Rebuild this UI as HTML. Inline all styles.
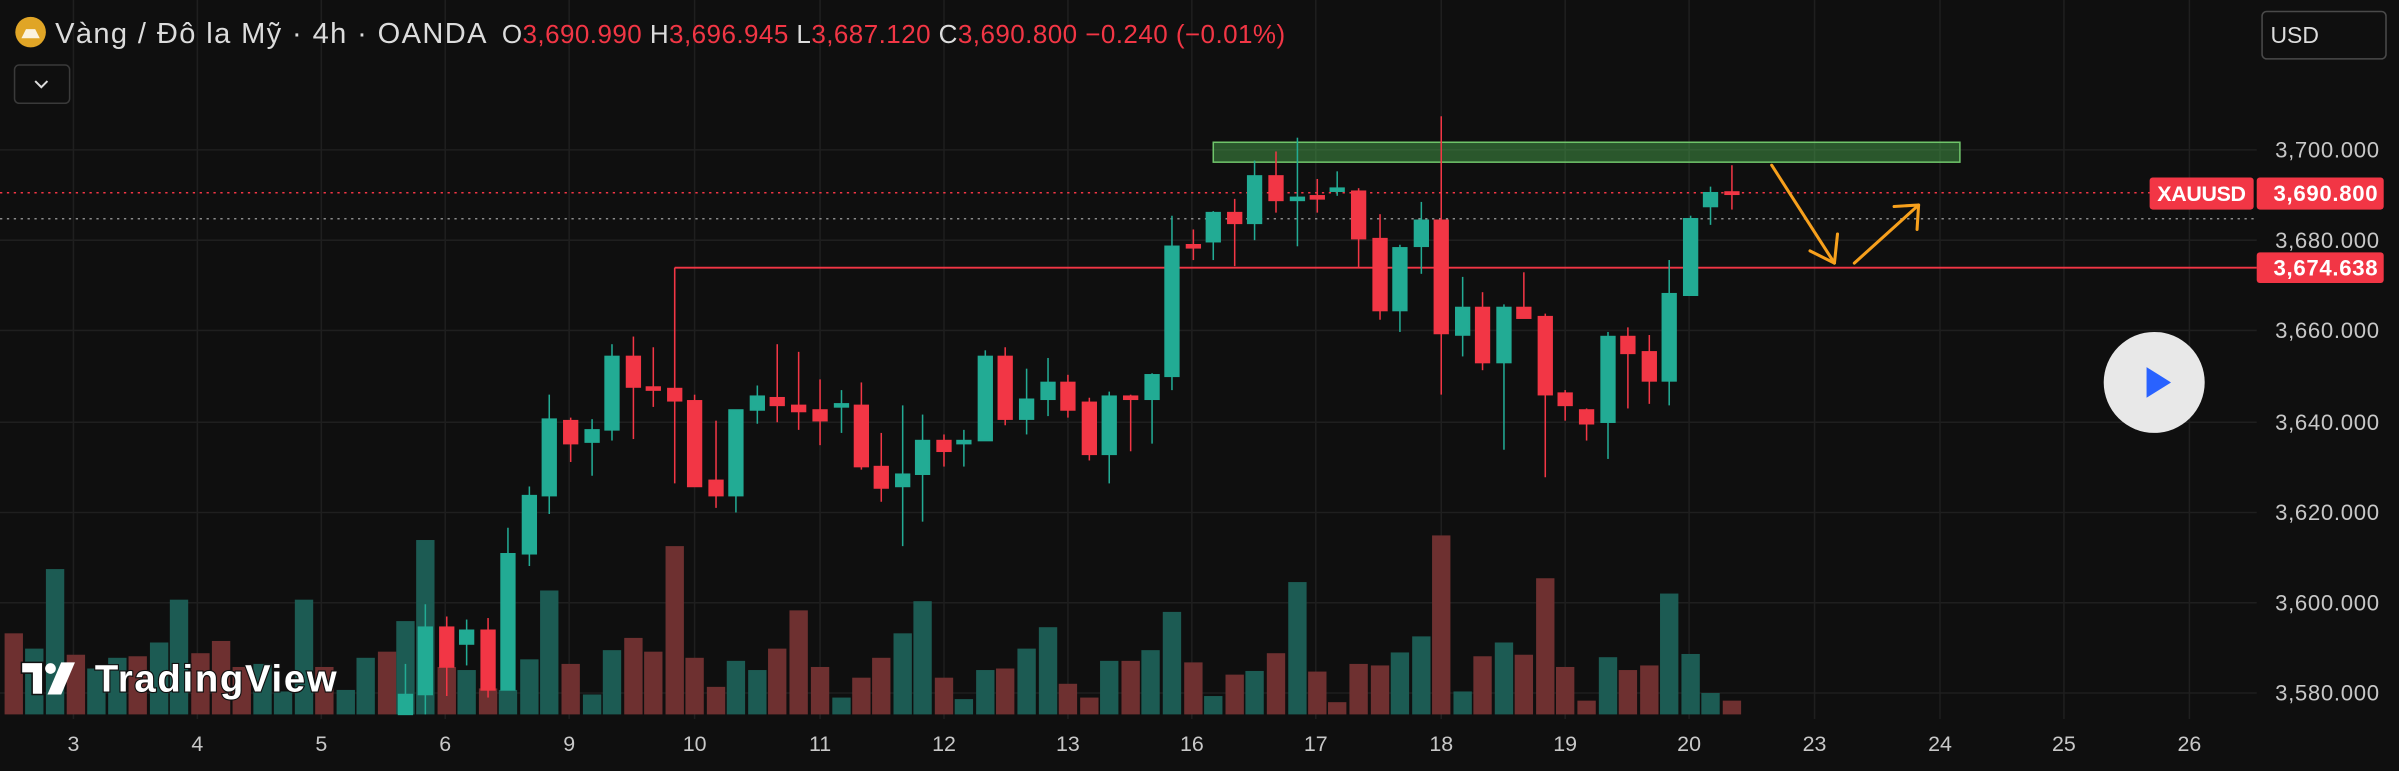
<!DOCTYPE html>
<html><head><meta charset="utf-8"><style>
html,body{margin:0;padding:0;background:#0f0f0f;overflow:hidden}
svg{display:block}
text{font-family:"Liberation Sans",sans-serif}
</style></head><body>
<svg width="2399" height="771" viewBox="0 0 1568 504" preserveAspectRatio="none" xmlns="http://www.w3.org/2000/svg">
<rect width="1568" height="504" fill="#0f0f0f"/>
<g stroke="#1f1f1f" stroke-width="1">
<line x1="0" y1="98" x2="1475" y2="98"/><line x1="0" y1="157" x2="1475" y2="157"/><line x1="0" y1="216" x2="1475" y2="216"/><line x1="0" y1="276" x2="1475" y2="276"/><line x1="0" y1="335" x2="1475" y2="335"/><line x1="0" y1="394" x2="1475" y2="394"/><line x1="0" y1="453" x2="1475" y2="453"/>
<line x1="48" y1="0" x2="48" y2="470"/><line x1="129" y1="0" x2="129" y2="470"/><line x1="210" y1="0" x2="210" y2="470"/><line x1="291" y1="0" x2="291" y2="470"/><line x1="372" y1="0" x2="372" y2="470"/><line x1="454" y1="0" x2="454" y2="470"/><line x1="536" y1="0" x2="536" y2="470"/><line x1="617" y1="0" x2="617" y2="470"/><line x1="698" y1="0" x2="698" y2="470"/><line x1="779" y1="0" x2="779" y2="470"/><line x1="860" y1="0" x2="860" y2="470"/><line x1="942" y1="0" x2="942" y2="470"/><line x1="1023" y1="0" x2="1023" y2="470"/><line x1="1104" y1="0" x2="1104" y2="470"/><line x1="1186" y1="0" x2="1186" y2="470"/><line x1="1268" y1="0" x2="1268" y2="470"/><line x1="1349" y1="0" x2="1349" y2="470"/><line x1="1431" y1="0" x2="1431" y2="470"/>
</g>
<!-- volumes -->
<g>
<g fill="#6e3030">
<rect x="3" y="414" width="12" height="53"/><rect x="43.6" y="428" width="12" height="39"/><rect x="84" y="429" width="12" height="38"/><rect x="125" y="427" width="12" height="40"/><rect x="138.5" y="419" width="12" height="48"/><rect x="152" y="436" width="12" height="31"/><rect x="206" y="436" width="12" height="31"/><rect x="247" y="426" width="12" height="41"/>
<rect x="286" y="436" width="12" height="31"/><rect x="313" y="450" width="12" height="17"/><rect x="367" y="434" width="12" height="33"/><rect x="408" y="417" width="12" height="50"/><rect x="421" y="426" width="12" height="41"/><rect x="435" y="357" width="12" height="110"/><rect x="448" y="430" width="12" height="37"/><rect x="462" y="449" width="12" height="18"/><rect x="502" y="424" width="12" height="43"/><rect x="516" y="399" width="12" height="68"/><rect x="530" y="436" width="12" height="31"/><rect x="557" y="443" width="12" height="24"/><rect x="570" y="430" width="12" height="37"/><rect x="611" y="443" width="12" height="24"/><rect x="651" y="437" width="12" height="30"/><rect x="692" y="447" width="12" height="20"/><rect x="706" y="456" width="12" height="11"/><rect x="733" y="432" width="12" height="35"/>
<rect x="774" y="433" width="12" height="34"/><rect x="801" y="441" width="12" height="26"/><rect x="828" y="427" width="12" height="40"/><rect x="855" y="439" width="12" height="28"/><rect x="868" y="459" width="12" height="8"/><rect x="882" y="434" width="12" height="33"/><rect x="896" y="435" width="12" height="32"/><rect x="936" y="350" width="12" height="117"/><rect x="963" y="429" width="12" height="38"/><rect x="990" y="428" width="12" height="39"/><rect x="1004" y="378" width="12" height="89"/><rect x="1017" y="436" width="12" height="31"/><rect x="1031" y="458" width="12" height="9"/><rect x="1058" y="438" width="12" height="29"/><rect x="1072" y="435" width="12" height="32"/><rect x="1126" y="458" width="12" height="9"/>
</g>
<g fill="#1c5b53">
<rect x="16.4" y="424" width="12" height="43"/><rect x="30" y="372" width="12" height="95"/><rect x="57" y="437" width="12" height="30"/><rect x="70.7" y="430" width="12" height="37"/><rect x="98" y="420" width="12" height="47"/><rect x="111" y="392" width="12" height="75"/><rect x="165.6" y="434" width="12" height="33"/><rect x="179" y="452" width="12" height="15"/><rect x="192.7" y="392" width="12" height="75"/><rect x="220" y="451" width="12" height="16"/><rect x="233" y="430" width="12" height="37"/>
<rect x="259" y="406" width="12" height="61"/><rect x="272" y="353" width="12" height="114"/><rect x="299" y="438" width="12" height="29"/><rect x="326" y="451" width="12" height="16"/><rect x="340" y="431" width="12" height="36"/><rect x="353" y="386" width="12" height="81"/><rect x="381" y="454" width="12" height="13"/><rect x="394" y="425" width="12" height="42"/><rect x="475" y="432" width="12" height="35"/><rect x="489" y="438" width="12" height="29"/><rect x="544" y="456" width="12" height="11"/><rect x="584" y="414" width="12" height="53"/><rect x="597" y="393" width="12" height="74"/><rect x="624" y="457" width="12" height="10"/><rect x="638" y="438" width="12" height="29"/><rect x="665" y="424" width="12" height="43"/><rect x="679" y="410" width="12" height="57"/><rect x="719" y="432" width="12" height="35"/><rect x="746" y="425" width="12" height="42"/><rect x="760" y="400" width="12" height="67"/>
<rect x="787" y="455" width="12" height="12"/><rect x="814" y="438.6" width="12" height="28.4"/><rect x="842" y="380.5" width="12" height="86.5"/><rect x="909" y="426.5" width="12" height="40.5"/><rect x="923" y="416" width="12" height="51"/><rect x="950" y="452" width="12" height="15"/><rect x="977" y="420" width="12" height="47"/><rect x="1045" y="429.6" width="12" height="37.4"/><rect x="1085" y="388" width="12" height="79"/><rect x="1099" y="427.5" width="12" height="39.5"/><rect x="1112" y="453" width="12" height="14"/>
</g>
</g>
<!-- horizontal level lines -->
<line x1="441" y1="175" x2="1475" y2="175" stroke="#f23645" stroke-width="1.2"/>
<line x1="441" y1="175" x2="441" y2="260" stroke="#f23645" stroke-width="1"/>
<line x1="0" y1="126" x2="1405" y2="126" stroke="#f23645" stroke-width="1" stroke-dasharray="1.5,3"/>
<line x1="0" y1="143" x2="1475" y2="143" stroke="#8a8a8a" stroke-width="1" stroke-dasharray="1.5,3"/>
<!-- green zone -->
<rect x="793" y="93" width="488" height="13" fill="rgba(76,175,80,0.45)" stroke="#6fc46a" stroke-width="1"/>
<!-- candles -->
<g id="c">
<g stroke="#22ab94" fill="#22ab94" stroke-width="1">
<line x1="265" y1="434" x2="265" y2="467"/><rect x="260.5" y="454" width="9" height="13"/>
<line x1="278" y1="395" x2="278" y2="467"/><rect x="273.5" y="410" width="9" height="44"/>
<line x1="305" y1="405" x2="305" y2="435"/><rect x="300.5" y="412" width="9" height="9"/>
<line x1="332" y1="345" x2="332" y2="451"/><rect x="327.5" y="362" width="9" height="89"/>
<line x1="346" y1="318" x2="346" y2="370"/><rect x="341.5" y="324" width="9" height="38"/>
<line x1="359" y1="258" x2="359" y2="336"/><rect x="354.5" y="274" width="9" height="50"/>
<line x1="387" y1="274" x2="387" y2="311"/><rect x="382.5" y="281" width="9" height="8"/>
<line x1="400" y1="225" x2="400" y2="288"/><rect x="395.5" y="233" width="9" height="48"/>
<line x1="481" y1="268" x2="481" y2="335"/><rect x="476.5" y="268" width="9" height="56"/>
<line x1="495" y1="252" x2="495" y2="277"/><rect x="490.5" y="259" width="9" height="9"/>
<line x1="550" y1="255" x2="550" y2="283"/><rect x="545.5" y="264" width="9" height="2"/>
<line x1="590" y1="265" x2="590" y2="357"/><rect x="585.5" y="310" width="9" height="8"/>
<line x1="603" y1="271" x2="603" y2="341"/><rect x="598.5" y="288" width="9" height="22"/>
<line x1="630" y1="281" x2="630" y2="305"/><rect x="625.5" y="288" width="9" height="2"/>
<line x1="644" y1="229" x2="644" y2="288"/><rect x="639.5" y="233" width="9" height="55"/>
<line x1="671" y1="241" x2="671" y2="284"/><rect x="666.5" y="261" width="9" height="13"/>
<line x1="685" y1="234" x2="685" y2="272"/><rect x="680.5" y="250" width="9" height="11"/>
<line x1="725" y1="256" x2="725" y2="316"/><rect x="720.5" y="259" width="9" height="38"/>
<line x1="753" y1="244" x2="753" y2="290"/><rect x="748.5" y="245" width="9" height="16"/>
<line x1="766" y1="141" x2="766" y2="255"/><rect x="761.5" y="161" width="9" height="85"/>
<line x1="793" y1="138" x2="793" y2="170"/><rect x="788.5" y="139" width="9" height="19"/>
<line x1="820" y1="105" x2="820" y2="157"/><rect x="815.5" y="115" width="9" height="31"/>
<line x1="848" y1="90" x2="848" y2="161"/><rect x="843.5" y="129" width="9" height="2"/>
<line x1="874" y1="112" x2="874" y2="128"/><rect x="869.5" y="123" width="9" height="2"/>
<line x1="915" y1="160" x2="915" y2="217"/><rect x="910.5" y="162" width="9" height="41"/>
<line x1="929" y1="132" x2="929" y2="179"/><rect x="924.5" y="144" width="9" height="17"/>
<line x1="956" y1="181" x2="956" y2="233"/><rect x="951.5" y="201" width="9" height="18"/>
<line x1="983" y1="199" x2="983" y2="294"/><rect x="978.5" y="201" width="9" height="36"/>
<line x1="1051" y1="217" x2="1051" y2="300"/><rect x="1046.5" y="220" width="9" height="56"/>
<line x1="1091" y1="170" x2="1091" y2="265"/><rect x="1086.5" y="192" width="9" height="57"/>
<line x1="1105" y1="141" x2="1105" y2="193"/><rect x="1100.5" y="143" width="9" height="50"/>
<line x1="1118" y1="122" x2="1118" y2="147"/><rect x="1113.5" y="126" width="9" height="9"/>
</g>
<g stroke="#f23645" fill="#f23645" stroke-width="1">
<line x1="292" y1="403" x2="292" y2="455"/><rect x="287.5" y="410" width="9" height="26"/>
<line x1="319" y1="404" x2="319" y2="456"/><rect x="314.5" y="412" width="9" height="39"/>
<line x1="373" y1="273" x2="373" y2="302"/><rect x="368.5" y="275" width="9" height="15"/>
<line x1="414" y1="220" x2="414" y2="287"/><rect x="409.5" y="233" width="9" height="20"/>
<line x1="427" y1="227" x2="427" y2="266"/><rect x="422.5" y="253" width="9" height="2"/>
<line x1="441" y1="175" x2="441" y2="316"/><rect x="436.5" y="254" width="9" height="8"/>
<line x1="454" y1="258" x2="454" y2="318"/><rect x="449.5" y="262" width="9" height="56"/>
<line x1="468" y1="275" x2="468" y2="332"/><rect x="463.5" y="314" width="9" height="10"/>
<line x1="508" y1="225" x2="508" y2="276"/><rect x="503.5" y="260" width="9" height="5"/>
<line x1="522" y1="230" x2="522" y2="281"/><rect x="517.5" y="265" width="9" height="4"/>
<line x1="536" y1="248" x2="536" y2="291"/><rect x="531.5" y="268" width="9" height="7"/>
<line x1="563" y1="250" x2="563" y2="307"/><rect x="558.5" y="265" width="9" height="40"/>
<line x1="576" y1="283" x2="576" y2="328"/><rect x="571.5" y="305" width="9" height="14"/>
<line x1="617" y1="284" x2="617" y2="305"/><rect x="612.5" y="288" width="9" height="7"/>
<line x1="657" y1="227" x2="657" y2="278"/><rect x="652.5" y="233" width="9" height="41"/>
<line x1="698" y1="245" x2="698" y2="273"/><rect x="693.5" y="250" width="9" height="18"/>
<line x1="712" y1="260" x2="712" y2="301"/><rect x="707.5" y="263" width="9" height="34"/>
<line x1="739" y1="258" x2="739" y2="295"/><rect x="734.5" y="259" width="9" height="2"/>
<line x1="780" y1="150" x2="780" y2="170"/><rect x="775.5" y="160" width="9" height="2"/>
<line x1="807" y1="130" x2="807" y2="174"/><rect x="802.5" y="139" width="9" height="7"/>
<line x1="834" y1="99" x2="834" y2="139"/><rect x="829.5" y="115" width="9" height="16"/>
<line x1="861" y1="117" x2="861" y2="139"/><rect x="856.5" y="128" width="9" height="2"/>
<line x1="888" y1="123" x2="888" y2="175"/><rect x="883.5" y="125" width="9" height="31"/>
<line x1="902" y1="140" x2="902" y2="209"/><rect x="897.5" y="156" width="9" height="47"/>
<line x1="942" y1="76" x2="942" y2="258"/><rect x="937.5" y="144" width="9" height="74"/>
<line x1="969" y1="191" x2="969" y2="242"/><rect x="964.5" y="201" width="9" height="36"/>
<line x1="996" y1="178" x2="996" y2="208"/><rect x="991.5" y="201" width="9" height="7"/>
<line x1="1010" y1="205" x2="1010" y2="312"/><rect x="1005.5" y="207" width="9" height="51"/>
<line x1="1023" y1="255" x2="1023" y2="275"/><rect x="1018.5" y="257" width="9" height="8"/>
<line x1="1037" y1="267" x2="1037" y2="288"/><rect x="1032.5" y="268" width="9" height="9"/>
<line x1="1064" y1="214" x2="1064" y2="267"/><rect x="1059.5" y="220" width="9" height="11"/>
<line x1="1078" y1="219" x2="1078" y2="264"/><rect x="1073.5" y="230" width="9" height="19"/>
<line x1="1132" y1="108" x2="1132" y2="137"/><rect x="1127.5" y="125.5" width="9" height="1.5"/>
</g>
</g>
<!-- orange arrows -->
<g stroke="#f7a01c" stroke-width="2" fill="none" stroke-linecap="round" stroke-linejoin="round">
<line x1="1158" y1="108" x2="1199" y2="172"/>
<polyline points="1183,164 1199,172 1201,153"/>
<line x1="1212" y1="172" x2="1254" y2="134"/>
<polyline points="1238,135 1254,134 1253,150"/>
</g>
<!-- price axis -->
<g font-size="14.5" fill="#c8c8c8">
<text x="1487" y="103" textLength="68">3,700.000</text><text x="1487" y="162" textLength="68">3,680.000</text><text x="1487" y="221" textLength="68">3,660.000</text><text x="1487" y="281" textLength="68">3,640.000</text><text x="1487" y="340" textLength="68">3,620.000</text><text x="1487" y="399" textLength="68">3,600.000</text><text x="1487" y="458" textLength="68">3,580.000</text>
</g>
<rect x="1405" y="116" width="68" height="21" rx="2" fill="#f23645"/>
<text x="1439" y="131.5" font-size="14" fill="#fff" text-anchor="middle" font-weight="bold" textLength="58">XAUUSD</text>
<rect x="1475" y="116" width="83" height="21" rx="2" fill="#f23645"/>
<text x="1486" y="131.5" font-size="14.5" fill="#fff" font-weight="bold" textLength="68">3,690.800</text>
<rect x="1475" y="165" width="83" height="20" rx="2" fill="#f23645"/>
<text x="1486" y="180" font-size="14.5" fill="#fff" font-weight="bold" textLength="68">3,674.638</text>
<!-- play button -->
<circle cx="1408" cy="250" r="33" fill="#e8e8e8"/>
<polygon points="1403,240 1403,260 1419,250" fill="#2962ff"/>
<!-- time axis -->
<g font-size="14" fill="#c8c8c8" text-anchor="middle">
<text x="48" y="491">3</text><text x="129" y="491">4</text><text x="210" y="491">5</text><text x="291" y="491">6</text><text x="372" y="491">9</text><text x="454" y="491">10</text><text x="536" y="491">11</text><text x="617" y="491">12</text><text x="698" y="491">13</text><text x="779" y="491">16</text><text x="860" y="491">17</text><text x="942" y="491">18</text><text x="1023" y="491">19</text><text x="1104" y="491">20</text><text x="1186" y="491">23</text><text x="1268" y="491">24</text><text x="1349" y="491">25</text><text x="1431" y="491">26</text>
</g>
<!-- header -->
<circle cx="20" cy="21" r="10" fill="#e0a526"/>
<polygon points="14,25 26,25 23,19 17,19" fill="#fff" opacity="0.85"/>
<text x="36" y="28" font-size="19" fill="#dcdcdc" textLength="282">Vàng / Đô la Mỹ · 4h · OANDA</text>
<text x="328" y="28" font-size="17" fill="#dcdcdc" textLength="512">O<tspan fill="#f23645">3,690.990</tspan> H<tspan fill="#f23645">3,696.945</tspan> L<tspan fill="#f23645">3,687.120</tspan> C<tspan fill="#f23645">3,690.800</tspan> <tspan fill="#f23645">−0.240 (−0.01%)</tspan></text>
<rect x="9.5" y="42.5" width="36" height="25" rx="3" fill="#0f0f0f" stroke="#3a3a3a"/>
<polyline points="23,53 27,57 31,53" fill="none" stroke="#ddd" stroke-width="1.3"/>
<rect x="1478.5" y="7.5" width="81" height="31" rx="3" fill="#0f0f0f" stroke="#4a4a4a"/>
<text x="1484" y="28" font-size="15" fill="#dcdcdc">USD</text>
<!-- TradingView logo -->
<g>
<path d="M14 433 h14 v21 h-7 v-14 h-7 z" fill="#fff" stroke="#111" stroke-width="1"/>
<circle cx="33" cy="437" r="3.5" fill="#fff"/>
<polygon points="40,433 49,433 40,454 31,454" fill="#fff"/>
<text x="62" y="452" font-size="25" font-weight="bold" fill="#fff" stroke="#111" stroke-width="1.5" paint-order="stroke" textLength="158">TradingView</text>
</g>
</svg>
</body></html>
